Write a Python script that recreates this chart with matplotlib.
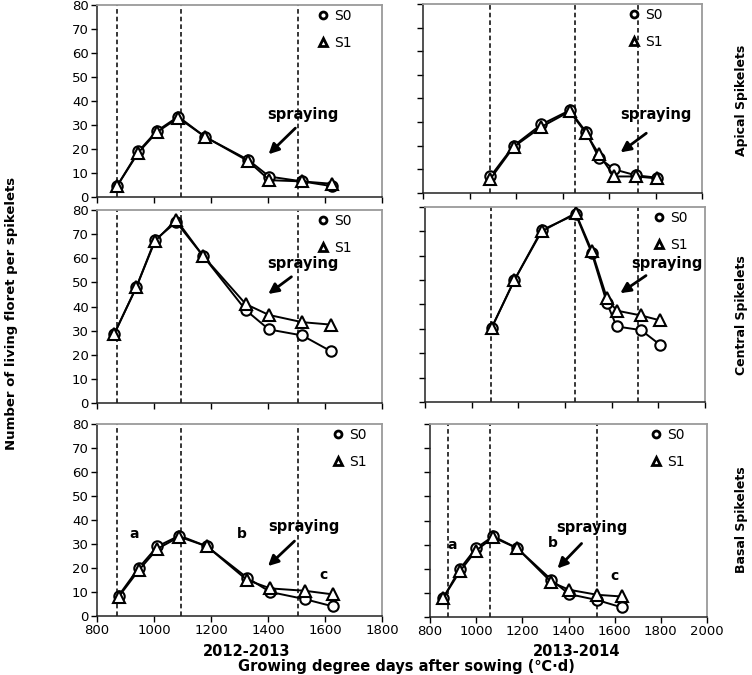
import matplotlib
matplotlib.use('Agg')
import matplotlib.pyplot as plt
from matplotlib.lines import Line2D

plt.rcParams['font.family'] = ['DejaVu Sans']

W, H = 752, 675

# Apical spikelets 2012-2013
ap12_x = [870, 945, 1010, 1085, 1180, 1330, 1405, 1520, 1625]
ap12_s0 = [4.5, 19, 27.5, 33.5, 25, 15.5, 8.5, 6.5, 4.5]
ap12_s1 = [4.5, 18.5, 27, 33, 25, 15, 7, 6.5, 5.5]

# Central spikelets 2012-2013
ce12_x = [860, 938, 1003, 1078, 1172, 1322, 1403, 1520, 1620]
ce12_s0 = [28.5, 48, 67.5, 75, 61, 38.5, 30.5, 28, 21.5]
ce12_s1 = [28.5, 48, 67, 76, 61, 41, 36.5, 33.5, 32.5]

# Basal spikelets 2012-2013
ba12_x = [876, 946, 1012, 1089, 1186, 1326, 1408, 1530, 1628]
ba12_s0 = [8.5, 20, 29, 33.5, 29, 16, 10, 7, 4]
ba12_s1 = [8, 19, 28, 33, 29, 15, 11.5, 10.5, 9]

# Apical spikelets 2013-2014
ap13_x = [1090, 1190, 1309, 1431, 1500, 1556, 1622, 1715, 1805]
ap13_s0 = [7, 20, 29, 35, 26, 15, 10, 7.5, 6.5]
ap13_s1 = [6, 19.5, 28, 34.5, 25.5, 16.5, 7, 7, 6.2]

# Central spikelets 2013-2014
ce13_x = [1086, 1183, 1300, 1446, 1515, 1580, 1621, 1726, 1807]
ce13_s0 = [30.5, 50, 70.5, 77, 61, 40.5, 31, 29.5, 23.5]
ce13_s1 = [30.5, 50, 70, 77.5, 62, 42.5, 37.5, 35.5, 33.5]

# Basal spikelets 2013-2014
ba13_x = [858, 930, 999, 1074, 1178, 1325, 1402, 1525, 1630]
ba13_s0 = [8, 20, 28.5, 33.5, 28.5, 15.5, 9.5, 7, 4]
ba13_s1 = [8, 19, 27.5, 33, 28.5, 14.5, 11.3, 9.2, 8.5]

# stage boundaries (dashed lines)
stages12 = [870, 1093, 1505]
stages_ap13 = [1090, 1453, 1725]
stages_ce13 = [1082, 1443, 1714]
stages_ba13 = [877, 1060, 1522]

# annotation positions: text (x, y), arrow tail, arrow head
spray = {
    'ap12': ((1523, 34.5), (1503, 29.5), (1395, 17)),
    'ce12': ((1523, 58), (1490, 53), (1393, 44.5)),
    'ba12': ((1527, 37.5), (1500, 32), (1393, 20)),
    'ap13': ((1800, 33.3), (1770, 26), (1640, 16.5)),
    'ce13': ((1836, 57), (1757, 52.5), (1627, 44)),
    'ba13': ((1500, 37), (1465, 31.3), (1344, 19.3)),
}
letters12 = [('a', 930, 34), ('b', 1307, 34), ('c', 1593, 17)]
letters13 = [('a', 898, 30), ('b', 1334, 30.8), ('c', 1599, 17)]

yticks = list(range(0, 81, 10))

fig = plt.figure(figsize=(W / 100, H / 100), dpi=100)


def px_axes(x0, x1, y0, y1):
    return fig.add_axes([x0 / W, 1 - y1 / H, (x1 - x0) / W, (y1 - y0) / H])


panels = [
    # x0, x1, y0, y1, xmax, data, stages, key, legend x, left col, bottom row, letters
    (97, 382, 5, 197, 1800, (ap12_x, ap12_s0, ap12_s1), stages12, 'ap12', 0.76, True, False, None),
    (97, 382, 210, 403, 1800, (ce12_x, ce12_s0, ce12_s1), stages12, 'ce12', 0.76, True, False, None),
    (97, 382, 424, 616, 1800, (ba12_x, ba12_s0, ba12_s1), stages12, 'ba12', 0.81, True, True, letters12),
    (423, 702, 4, 193, 2000, (ap13_x, ap13_s0, ap13_s1), stages_ap13, 'ap13', 0.72, False, False, None),
    (425, 705, 207, 402, 2000, (ce13_x, ce13_s0, ce13_s1), stages_ce13, 'ce13', 0.80, False, False, None),
    (430, 707, 424, 617, 2000, (ba13_x, ba13_s0, ba13_s1), stages_ba13, 'ba13', 0.78, False, True, letters13),
]

for x0, x1, y0, y1, xmax, (xs, s0, s1), stages, key, lx, left, bottom, letters in panels:
    ax = px_axes(x0, x1, y0, y1)
    ax.set_xlim(800, xmax)
    ax.set_ylim(0, 80)
    for xv in stages:
        ax.axvline(xv, color='k', ls=(0, (3, 2)), lw=1.1, zorder=1)
    ax.plot(xs, s0, color='k', lw=1.4, marker='o', ms=7.5, mfc='white', mec='k', mew=1.5, zorder=3)
    ax.plot(xs, s1, color='k', lw=1.4, marker='^', ms=8, mfc='white', mec='k', mew=1.5, zorder=4)

    (tx, ty), tail, head = spray[key]
    ax.text(tx, ty, 'spraying', fontsize=10.5, fontweight='bold', ha='center', va='center')
    ax.annotate('', xy=head, xytext=tail,
                arrowprops=dict(arrowstyle='-|>,head_length=0.6,head_width=0.3', color='k', lw=2))
    if letters:
        for t, lxv, lyv in letters:
            ax.text(lxv, lyv, t, fontsize=10, fontweight='bold', ha='center', va='center')

    handles = [Line2D([], [], ls='none', marker='o', ms=5, mfc='white', mec='k', mew=2),
               Line2D([], [], ls='none', marker='^', ms=6, mfc='white', mec='k', mew=2)]
    ax.legend(handles, ['S0', 'S1'], loc='upper left', bbox_to_anchor=(lx, 1.0), frameon=False,
              fontsize=10, handlelength=0.8, handletextpad=0.4, labelspacing=0.9, borderpad=0.3,
              borderaxespad=0)

    ax.set_xticks(range(800, xmax + 1, 200))
    ax.set_yticks(yticks)
    ax.tick_params(direction='out', length=4, width=1, labelsize=9.5, pad=2)
    if not left:
        ax.set_yticklabels([])
    if not bottom:
        ax.set_xticklabels([])
    for side in ['left', 'bottom']:
        ax.spines[side].set_color('#222222')
        ax.spines[side].set_linewidth(1.1)
    for side in ['top', 'right']:
        ax.spines[side].set_color('#9a9a9a')
        ax.spines[side].set_linewidth(1.3)

narrow = ['DejaVu Sans Condensed', 'DejaVu Sans']
fig.text(12 / W, 1 - 313 / H, 'Number of living floret per spikelets', rotation=90,
         ha='center', va='center', fontsize=9.5, fontweight='bold', family=narrow)
for label, yc in [('Apical Spikelets', 100), ('Central Spikelets', 315), ('Basal Spikelets', 520)]:
    fig.text(741 / W, 1 - yc / H, label, rotation=90, ha='center', va='center',
             fontsize=9, fontweight='bold', family=narrow)

fig.text(247 / W, 1 - 652 / H, '2012-2013', ha='center', va='center', fontsize=10.5, fontweight='bold')
fig.text(577 / W, 1 - 652 / H, '2013-2014', ha='center', va='center', fontsize=10.5, fontweight='bold')
fig.text(406 / W, 1 - 667 / H, 'Growing degree days after sowing (℃·d)', ha='center', va='center',
         fontsize=10.5, fontweight='bold')

fig.savefig('out.png', dpi=100)
